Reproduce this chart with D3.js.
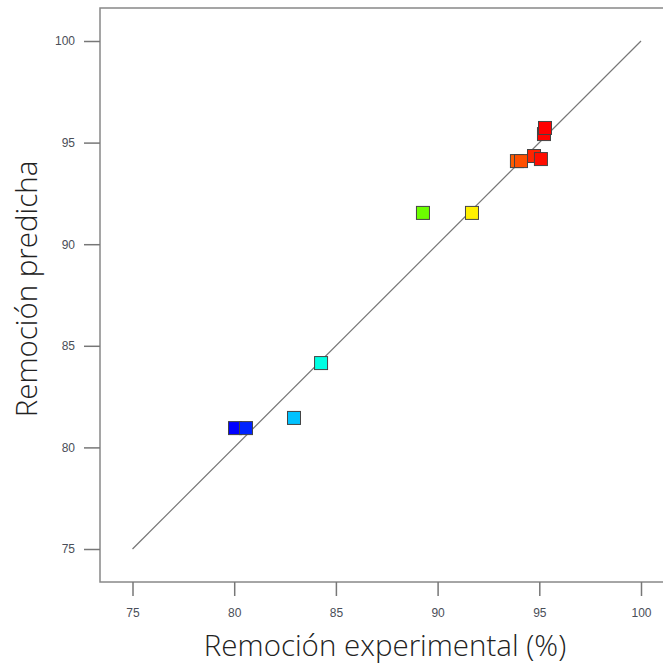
<!DOCTYPE html>
<html>
<head>
<meta charset="utf-8">
<script src="https://cdn.jsdelivr.net/npm/d3@7"></script>
<style>
  body { margin: 0; background: #fff; }
  svg { display: block; }
</style>
</head>
<body>
<div id="chart"></div>
<script>
// valores
const experimental = [80.04, 80.58, 82.94, 84.27, 89.28, 91.69, 93.90, 94.10, 94.74, 95.08, 95.23, 95.28]
const predicha =     [80.95, 80.95, 81.45, 84.15, 91.54, 91.54, 94.09, 94.09, 94.34, 94.19, 95.42, 95.72]
const ticks = [75, 80, 85, 90, 95, 100]
const lineaIdeal = [75, 100]

const width = 663
const height = 665

const svg = d3.select('#chart').append('svg')
  .attr('width', width)
  .attr('height', height)

// marco del gráfico
const frame = { left: 100, top: 8, right: 680, bottom: 582 }

const xScale = d3.scaleLinear().domain([75, 100]).range([132.5, 641])
const yScale = d3.scaleLinear().domain([75, 100]).range([549, 41])

// color según la remoción experimental (azul -> rojo)
const hueScale = d3.scaleLinear()
  .domain([d3.min(experimental), d3.max(experimental)])
  .range([240, 0])

svg.append('rect')
  .attr('x', frame.left)
  .attr('y', frame.top)
  .attr('width', frame.right - frame.left)
  .attr('height', frame.bottom - frame.top)
  .attr('fill', 'none')
  .attr('stroke', '#888')
  .attr('stroke-width', 1.5)

const xAxis = d3.axisBottom(xScale).tickValues(ticks).tickSize(14).tickPadding(12).tickSizeOuter(0)
const yAxis = d3.axisLeft(yScale).tickValues(ticks).tickSize(16).tickPadding(9).tickSizeOuter(0)

const gx = svg.append('g')
  .attr('transform', `translate(0, ${frame.bottom})`)
  .call(xAxis)
const gy = svg.append('g')
  .attr('transform', `translate(${frame.left}, 0)`)
  .call(yAxis)

;[gx, gy].forEach((g) => {
  g.select('.domain').remove()
  g.selectAll('.tick line').attr('stroke', '#777').attr('stroke-width', 1.5)
  g.selectAll('.tick text')
    .attr('fill', '#4a4e58')
    .style('font-family', '"Liberation Sans", Arial, sans-serif')
    .style('font-size', '12px')
})

// línea y = x
svg.append('line')
  .attr('x1', xScale(lineaIdeal[0]))
  .attr('y1', yScale(lineaIdeal[0]))
  .attr('x2', xScale(lineaIdeal[1]))
  .attr('y2', yScale(lineaIdeal[1]))
  .attr('stroke', '#777')
  .attr('stroke-width', 1.2)

const size = 13
svg.append('g')
  .selectAll('rect')
  .data(experimental)
  .enter()
  .append('rect')
  .attr('x', (d) => xScale(d) - size / 2)
  .attr('y', (d, i) => yScale(predicha[i]) - size / 2)
  .attr('width', size)
  .attr('height', size)
  .attr('fill', (d) => d3.hsl(hueScale(d), 1, 0.5))
  .attr('stroke', '#444')
  .attr('stroke-width', 1)

// títulos de los ejes
svg.append('text')
  .attr('x', 385)
  .attr('y', 656)
  .attr('text-anchor', 'middle')
  .attr('fill', '#222')
  .style('font-family', '"Open Sans", sans-serif')
  .style('font-size', '29.5px')
  .style('font-weight', 300)
  .text('Remoción experimental (%)')

svg.append('text')
  .attr('transform', 'translate(37, 289) rotate(-90)')
  .attr('text-anchor', 'middle')
  .attr('fill', '#222')
  .style('font-family', '"Open Sans", sans-serif')
  .style('font-size', '29.5px')
  .style('font-weight', 300)
  .text('Remoción predicha')
</script>
</body>
</html>
